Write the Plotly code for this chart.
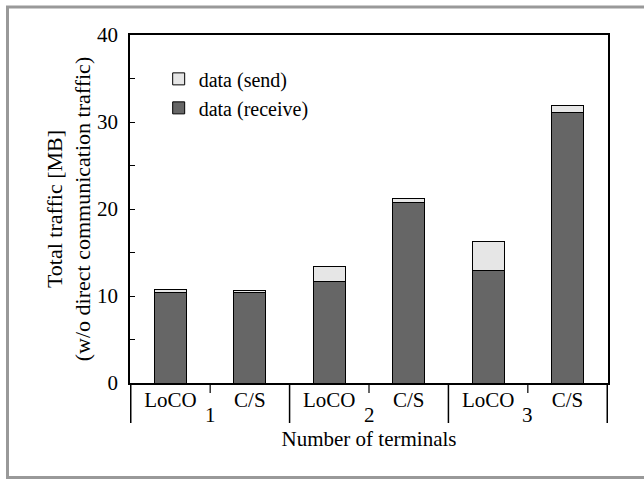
import plotly.graph_objects as go

# terminals count (outer level) and method (inner level)
TERMINALS = ["1", "1", "2", "2", "3", "3"]
METHODS = ["LoCO", "C/S", "LoCO", "C/S", "LoCO", "C/S"]

# traffic in MB
RECEIVE = [10.40, 10.35, 11.62, 20.71, 12.96, 31.13]
SEND = [0.35, 0.25, 1.72, 0.53, 3.34, 0.81]

FONT = "Liberation Serif"
DARK = "#666666"
LIGHT = "#e6e6e6"

keys = [f"{m} {t}" for m, t in zip(METHODS, TERMINALS)]
groups = list(dict.fromkeys(TERMINALS))

fig = go.Figure()
fig.add_trace(
    go.Bar(
        x=keys,
        y=RECEIVE,
        name="data (receive)",
        width=0.4,
        marker=dict(color=DARK, line=dict(color="black", width=1)),
    )
)
fig.add_trace(
    go.Bar(
        x=keys,
        y=SEND,
        name="data (send)",
        width=0.4,
        marker=dict(color=LIGHT, line=dict(color="black", width=1)),
    )
)

# category axis decoration: group dividers, centre ticks, group numbers
shapes = []
annotations = []
for i, g in enumerate(groups):
    left = 2 * i - 0.5
    shapes.append(dict(type="line", xref="x", yref="paper", x0=left, x1=left,
                       y0=0, y1=-40 / 348, line=dict(color="black", width=1.5)))
    shapes.append(dict(type="line", xref="x", yref="paper", x0=left + 1, x1=left + 1,
                       y0=0, y1=-10 / 348, line=dict(color="black", width=1.2)))
    annotations.append(dict(text=g, xref="x", yref="paper", x=left + 1, y=-32 / 348,
                            xanchor="center", yanchor="middle", showarrow=False,
                            font=dict(family=FONT, size=21)))
end = 2 * len(groups) - 0.5
shapes.append(dict(type="line", xref="x", yref="paper", x0=end, x1=end,
                   y0=0, y1=-40 / 348, line=dict(color="black", width=1.5)))

# grey page frame
shapes.append(
    dict(
        type="rect",
        xref="paper",
        yref="paper",
        x0=(7.5 - 130) / 478,
        x1=(700 - 130) / 478,
        y0=(383 - 477.5) / 348,
        y1=(383 - 7) / 348,
        line=dict(color="#999999", width=3),
        layer="below",
    )
)

fig.update_layout(
    barmode="stack",
    width=644,
    height=479,
    paper_bgcolor="white",
    plot_bgcolor="white",
    font=dict(family=FONT, size=21, color="black"),
    margin=dict(l=130, r=36, t=35, b=96),
    showlegend=True,
    legend=dict(
        x=0.06,
        y=0.93,
        xanchor="left",
        yanchor="top",
        traceorder="reversed",
        bgcolor="rgba(0,0,0,0)",
        font=dict(family=FONT, size=20),
        tracegroupgap=0,
    ),
    xaxis=dict(
        type="category",
        tickvals=keys,
        ticktext=METHODS,
        tickfont=dict(family=FONT, size=21),
        ticklabelstandoff=-3,
        showline=True,
        linecolor="black",
        linewidth=1.5,
        mirror=True,
        ticks="",
        showgrid=False,
        title=dict(text="Number of terminals", font=dict(family=FONT, size=21),
                   standoff=20),
    ),
    yaxis=dict(
        range=[0, 40],
        dtick=10,
        tickfont=dict(family=FONT, size=21),
        ticklabelstandoff=6,
        ticks="inside",
        ticklen=5,
        tickcolor="black",
        minor=dict(dtick=5, ticks="inside", ticklen=5, tickcolor="black"),
        showline=True,
        linecolor="black",
        linewidth=1.5,
        mirror=True,
        showgrid=False,
        zeroline=False,
        title=dict(
            text="Total traffic [MB]<br>(w/o direct communication traffic)",
            font=dict(family=FONT, size=22),
            standoff=0,
        ),
    ),
    shapes=shapes,
    annotations=annotations,
)

fig.write_html(
    "out.html",
    config={"displayModeBar": False},
    post_script="document.body.style.margin='0';",
)
